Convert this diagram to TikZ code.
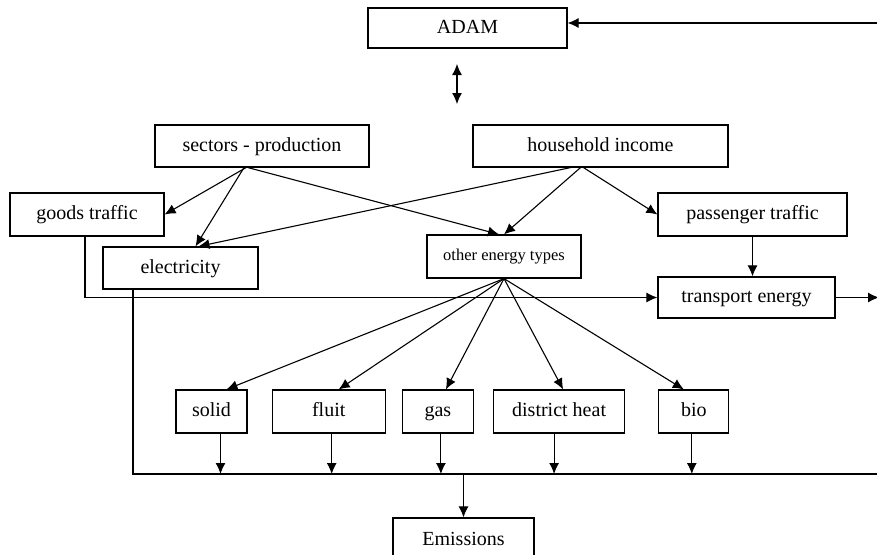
\documentclass[tikz,border=0pt]{standalone}
\usepackage{fontspec}
\setmainfont{Liberation Serif}
\usetikzlibrary{positioning,arrows.meta}
\tikzstyle{block}=[rectangle, draw=black, line width=1.2pt, text centered, text=black, inner sep=0pt, text height=14pt, text depth=4pt, minimum height=43pt, font=\fontsize{20}{24}\selectfont]
\tikzset{>={Latex[length=11pt,width=10pt]}}

\begin{document}
\begin{tikzpicture}[x=1pt, y=-1pt, line width=1.1pt]
    \useasboundingbox (0,0) rectangle (877,554);

        \node(adam)[block, minimum width=199pt, minimum height=40pt] at (467.5,28) {ADAM};
        \node(sectors)[block, minimum width=214pt, minimum height=42pt] at (262,146) {sectors - production};
        \node(household)[block, minimum width=255pt, minimum height=42pt] at (600.5,146) {household income};

        \node(goods)[block, minimum width=154pt] at (87,214.5) {goods traffic};
        \node(electricity)[block, minimum width=155pt, minimum height=42pt] at (180.5,268) {electricity};
        \node(other)[block, minimum width=154pt, text height=11pt, text depth=3pt, font=\fontsize{16.5}{20}\selectfont] at (504,256.5) {other energy types};
        \node(passenger)[block, minimum width=189pt] at (752.5,214.5) {passenger traffic};
        \node(transport)[block, minimum width=177pt, minimum height=41pt] at (746.5,297.5) {transport energy};

        \node(solid)[block, minimum width=71pt] at (211.5,411.5) {solid};
        \node(fluit)[block, minimum width=113pt, right=24pt of solid] {fluit};
        \node(gas)[block, minimum width=71pt, right=16pt of fluit] {gas};
        \node(district)[block, minimum width=131pt, right=19pt of gas] {district heat};
        \node(bio)[block, minimum width=70pt, right=33pt of district] {bio};

        \node(emissions)[block, minimum width=141pt, minimum height=44pt] at (463.5,540) {Emissions};

        % free ends at the page edge
        \coordinate (feedback) at (878,23);
        \coordinate (transportOut) at (879,297.5);
        \coordinate (busEnd) at (878,474);
        \coordinate (linkTop) at (457,64);
        \coordinate (linkBot) at (457,104);

        \draw [->] (feedback) -- (feedback -| adam.east);
        \draw [<->] (linkTop) -- (linkBot);

        \draw [->] ([xshift=-16pt]sectors.south) -- (goods.east);
        \draw [->] ([xshift=-18pt]sectors.south) -- ([xshift=15pt]electricity.north);
        \draw [->] ([xshift=-14pt]sectors.south) -- ([xshift=-5pt]other.north);

        \draw [->] ([xshift=-30pt]household.south) -- ([xshift=18pt]electricity.north);
        \draw [->] ([xshift=-20pt]household.south) -- (other.north);
        \draw [->] ([xshift=-17pt]household.south) -- (passenger.west);

        \draw [->] (passenger.south) -- (passenger.south |- transport.north);
        \draw [->] ([xshift=-2pt]goods.south) |- (transport.west);
        \draw [->] (transport.east) -- (transportOut);

        \foreach \fuel/\dx in {solid/15, fluit/10, gas/8, district/4, bio/-10}{
            \draw [->] (other.south) -- ([xshift=\dx pt]\fuel.north);
        };
        \foreach \fuel/\dx in {solid/9, fluit/3, gas/3, district/-5, bio/-2}{
            \draw [->] ([xshift=\dx pt]\fuel.south) -- ([xshift=\dx pt]\fuel.south |- busEnd);
        };

        \draw ([xshift=-47.5pt]electricity.south) |- (busEnd);
        \draw [->] (emissions.north |- busEnd) -- (emissions.north);

    \end{tikzpicture}
\end{document}
